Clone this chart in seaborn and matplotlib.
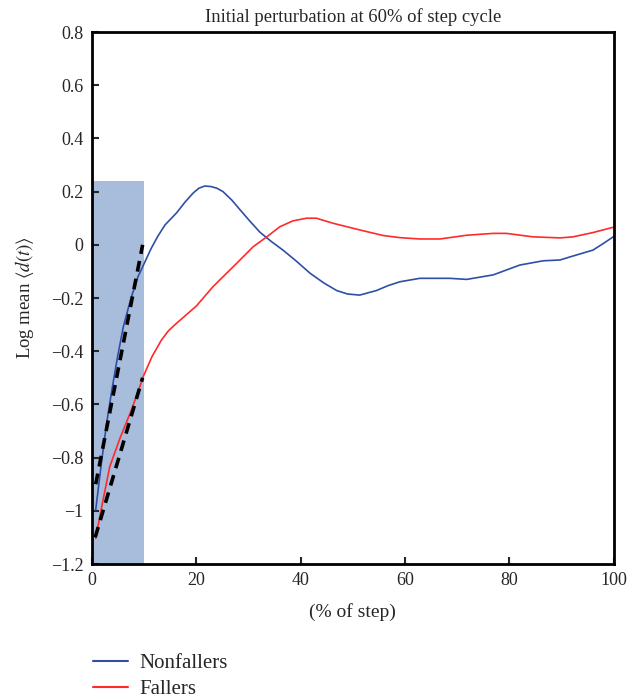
import matplotlib
matplotlib.use("Agg")
import matplotlib.pyplot as plt
import seaborn as sns
import pandas as pd
from matplotlib.ticker import FuncFormatter

# --- data ---
nonfaller_x = [0.7, 1.8, 2.8, 3.8, 4.9, 6, 7.4, 8.8, 10, 11.3, 12.6, 14, 16.2, 17.8, 19.4,
               20.5, 21.6, 22.8, 23.9, 25.1, 26.8, 28.4, 30.3, 32.2, 34.4, 36.6, 39.2,
               41.8, 44.4, 46.9, 49, 51.3, 54.5, 56.8, 59, 62.8, 68.6, 71.8, 76.9, 82,
               86.5, 89.7, 92.2, 96, 98, 99.9]
nonfaller_y = [-0.997, -0.82, -0.67, -0.546, -0.42, -0.308, -0.205, -0.12, -0.07, -0.015,
               0.032, 0.075, 0.12, 0.16, 0.195, 0.213, 0.221, 0.219, 0.213, 0.2, 0.168,
               0.131, 0.088, 0.047, 0.012, -0.02, -0.062, -0.107, -0.143, -0.172, -0.185,
               -0.189, -0.172, -0.153, -0.139, -0.126, -0.126, -0.13, -0.113, -0.076,
               -0.06, -0.057, -0.042, -0.02, 0.005, 0.03]
faller_x = [0.7, 2, 3.4, 5.3, 7.3, 8.6, 9.8, 11.5, 13.3, 14.7, 16.2, 20, 23.2, 27.7, 30.9,
            33.5, 36, 38.5, 41.1, 43, 46.2, 51.3, 55.8, 59, 62.8, 66.7, 71.8, 76.9, 79.4,
            84.5, 89.7, 92.2, 96, 99.9]
faller_y = [-1.103, -0.97, -0.834, -0.73, -0.633, -0.565, -0.496, -0.42, -0.358, -0.322,
            -0.295, -0.23, -0.157, -0.07, -0.007, 0.03, 0.068, 0.09, 0.1, 0.1, 0.081,
            0.056, 0.035, 0.027, 0.022, 0.022, 0.036, 0.043, 0.043, 0.03, 0.026, 0.03,
            0.046, 0.066]

# linear fits over the first 10% (dashed)
fit_nonfaller_x = [0.7, 9.7]
fit_nonfaller_y = [-0.90, 0.0]
fit_faller_x = [0.6, 9.7]
fit_faller_y = [-1.10, -0.50]

shade_x = [0, 10]
shade_top = 0.24

group_names = ["Nonfallers", "Fallers"]
group_colors = ["#2f4fa6", "#ff2a2a"]

df = pd.concat([
    pd.DataFrame({"pct": nonfaller_x, "val": nonfaller_y, "group": group_names[0]}),
    pd.DataFrame({"pct": faller_x, "val": faller_y, "group": group_names[1]}),
])

# --- style ---
sns.set_style("ticks")
plt.rcParams["font.family"] = ["Liberation Serif", "DejaVu Serif"]
plt.rcParams["mathtext.fontset"] = "stix"

fig = plt.figure(figsize=(6.4, 6.99), dpi=100)
ax = fig.add_axes([0.1438, 0.1931, 0.8152, 0.7611])

ax.fill_between(shade_x, -1.2, shade_top, color="#a8bddb", lw=0, zorder=0)

sns.lineplot(data=df, x="pct", y="val", hue="group", hue_order=group_names,
             palette=group_colors, lw=1.2, ax=ax, legend=False, zorder=2)

ax.plot(fit_nonfaller_x, fit_nonfaller_y, color="black", lw=2.6, ls=(0, (3, 2)), zorder=3)
ax.plot(fit_faller_x, fit_faller_y, color="black", lw=2.6, ls=(0, (3, 2)), zorder=3)

ax.set_xlim(0, 100)
ax.set_ylim(-1.2, 0.8)
ax.set_xticks([0, 20, 40, 60, 80, 100])
ax.set_yticks([-1.2, -1.0, -0.8, -0.6, -0.4, -0.2, 0, 0.2, 0.4, 0.6, 0.8])
ax.yaxis.set_major_formatter(FuncFormatter(lambda v, p: f"{v:g}".replace("-", "\u2212")))
ax.tick_params(direction="in", length=5, width=1.5, labelsize=13, top=False, right=False, pad=6)

for s in ax.spines.values():
    s.set_linewidth(2)
    s.set_color("black")

ax.set_xlabel("(% of step)", fontsize=14, labelpad=10)
ax.set_ylabel(r"Log mean $\langle d(t)\rangle$", fontsize=13.5, labelpad=11)
ax.set_title("Initial perturbation at 60% of step cycle", fontsize=13.4, pad=7)

handles = [plt.Line2D([], [], color=c, lw=1.5) for c in group_colors]
fig.legend(handles, group_names, loc="upper left", bbox_to_anchor=(0.145, 0.065),
           frameon=False, fontsize=15, handlelength=1.7, handletextpad=0.55,
           labelspacing=0.3, borderaxespad=0, borderpad=0)

fig.savefig("out.png", dpi=100)
